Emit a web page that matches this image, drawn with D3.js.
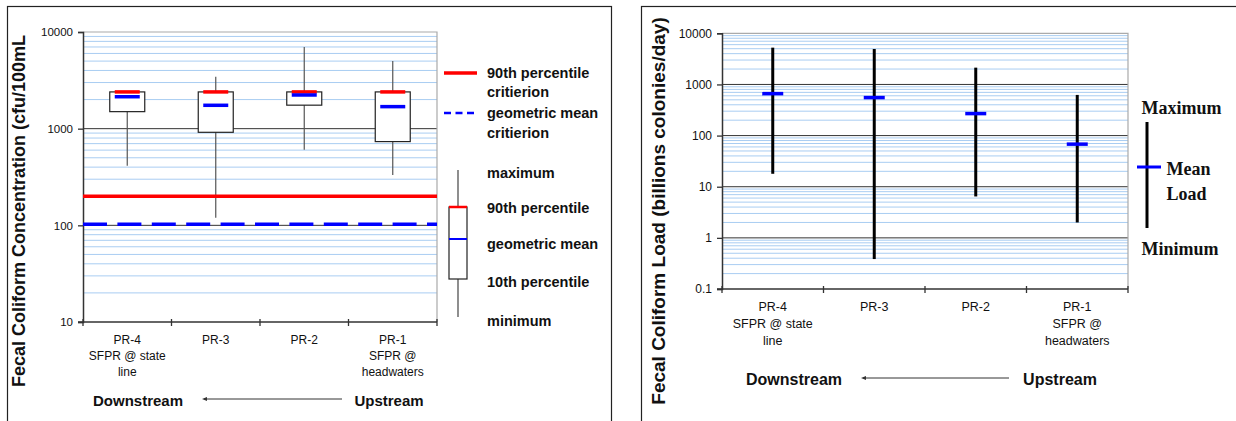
<!DOCTYPE html>
<html>
<head>
<meta charset="utf-8">
<script src="https://cdn.jsdelivr.net/npm/d3@7"></script>
<style>
  body { margin: 0; background: #fff; }
  svg { display: block; }
  text { font-family: Arial, "Liberation Sans", sans-serif; fill: #111; }
</style>
</head>
<body>
<svg width="1236" height="421"></svg>
<script>
// DATA

const sites = ["PR-4", "PR-3", "PR-2", "PR-1"];
const siteLabels = [["PR-4", "SFPR @ state", "line"], ["PR-3"], ["PR-2"], ["PR-1", "SFPR @", "headwaters"]];

// concentration box plots (cfu/100mL)
const concMax = [2400, 3450, 7000, 5000];
const concP90 = [2400, 2400, 2400, 2400];
const concGeoMean = [2140, 1745, 2230, 1690];
const concP10 = [1500, 917, 1750, 735];
const concMin = [414, 120, 606, 332];
const p90Criterion = 200;
const geoMeanCriterion = 100;
const concTicks = [10, 100, 1000, 10000];

// loads (billions colonies/day)
const loadMax = [5240, 4930, 2130, 624];
const loadMean = [661, 553, 269, 68];
const loadMin = [17.9, 0.385, 6.45, 2.0];
const loadTicks = [0.1, 1, 10, 100, 1000, 10000];

const boxLegend = ["maximum", "90th percentile", "geometric mean", "10th percentile", "minimum"];

// LAYOUT

const svg = d3.select('svg');
const RED = '#ff0000';
const BLUE = '#0000ff';
const MINOR_GRID = '#a9cdf2';

// panel frames
svg.append('rect').attr('x', 7.5).attr('y', 6.5).attr('width', 604).attr('height', 430)
    .style('fill', 'none').style('stroke', '#222').style('stroke-width', 1.2);
svg.append('rect').attr('x', 641.5).attr('y', 6.5).attr('width', 640).attr('height', 430)
    .style('fill', 'none').style('stroke', '#222').style('stroke-width', 1.2);

/**
 * Draws a log-scale plot frame with grid, y axis and category labels
 */
function drawFrame(g, x, y, ticks, opts) {
    const [x0, x1] = x.range();
    const [y0, y1] = y.range();

    // minor grid
    const minor = y.ticks().filter(v => Math.abs(Math.log10(v) - Math.round(Math.log10(v))) > 1e-6);
    g.selectAll('.minor').data(minor).enter().append('line')
        .attr('x1', x0).attr('x2', x1)
        .attr('y1', d => y(d)).attr('y2', d => y(d))
        .style('stroke', MINOR_GRID).style('stroke-width', 1);

    // major grid
    g.selectAll('.major').data(ticks.slice(1, -1)).enter().append('line')
        .attr('x1', x0).attr('x2', x1)
        .attr('y1', d => y(d)).attr('y2', d => y(d))
        .style('stroke', '#333').style('stroke-width', 1);

    // plot border top/right
    g.append('path').attr('d', `M${x0},${y1}H${x1}V${y0}`)
        .style('fill', 'none').style('stroke', '#aaa').style('stroke-width', 1.2);

    // y axis
    const yAxis = g.append('g').attr('transform', `translate(${x0},0)`)
        .call(d3.axisLeft(y).tickValues(ticks).tickFormat(d => String(d)).tickSizeOuter(0).tickSize(5).tickPadding(5));
    yAxis.select('.domain').style('stroke', '#333').style('stroke-width', 1.5);
    yAxis.selectAll('.tick line').style('stroke', '#333').style('stroke-width', 1.3);
    yAxis.selectAll('.tick text').style('font-size', opts.tickFont + 'px')
        .style('font-family', 'Arial, "Liberation Sans", sans-serif').style('fill', '#111');

    // x axis line and boundary ticks
    g.append('line').attr('x1', x0 - 5).attr('x2', x1).attr('y1', y0).attr('y2', y0)
        .style('stroke', '#333').style('stroke-width', 1.5);
    const bounds = sites.map(s => x(s)).concat([x1]);
    g.selectAll('.xtick').data(bounds).enter().append('line')
        .attr('x1', d => d).attr('x2', d => d)
        .attr('y1', y0 - 3).attr('y2', y0 + 4)
        .style('stroke', '#333').style('stroke-width', 1.3);

    // category labels
    const labels = g.selectAll('.cat').data(sites).enter().append('text')
        .attr('text-anchor', 'middle')
        .style('font-size', opts.catFont + 'px');
    labels.selectAll('tspan').data((d, i) => siteLabels[i]).enter().append('tspan')
        .attr('x', function() { return x(d3.select(this.parentNode).datum()) + x.bandwidth() / 2; })
        .attr('y', (d, i) => y0 + opts.catOffset + i * opts.catLine)
        .text(d => d);
}

function drawDirection(g, cx1, cx2, ax1, ax2, yy, fontSize) {
    g.append('text').attr('x', cx1).attr('y', yy + 5).attr('text-anchor', 'middle')
        .style('font-size', fontSize + 'px').style('font-weight', 'bold').text('Downstream');
    g.append('text').attr('x', cx2).attr('y', yy + 5).attr('text-anchor', 'middle')
        .style('font-size', fontSize + 'px').style('font-weight', 'bold').text('Upstream');
    g.append('line').attr('x1', ax2).attr('x2', ax1 + 2).attr('y1', yy - 2).attr('y2', yy - 2)
        .style('stroke', '#333').style('stroke-width', 1);
    g.append('path').attr('d', `M${ax1},${yy - 2}l5,-2v4z`).style('fill', '#333');
}

// LEFT PANEL: concentration box plots
const left = svg.append('g');
const xc = d3.scaleBand().domain(sites).range([83, 437]);
const yc = d3.scaleLog().domain([10, 10000]).range([322, 32]);
drawFrame(left, xc, yc, concTicks, { tickFont: 11.5, catFont: 12, catOffset: 22, catLine: 16 });

const boxW = 35, markW = 25;
const cc = i => xc(sites[i]) + xc.bandwidth() / 2;

// whiskers
left.selectAll('.whisker').data(sites).enter().append('line')
    .attr('x1', (d, i) => cc(i)).attr('x2', (d, i) => cc(i))
    .attr('y1', (d, i) => yc(concMax[i])).attr('y2', (d, i) => yc(concMin[i]))
    .style('stroke', '#555').style('stroke-width', 1.2);

// boxes
left.selectAll('.box').data(sites).enter().append('rect')
    .attr('x', (d, i) => cc(i) - boxW / 2).attr('width', boxW)
    .attr('y', (d, i) => yc(concP90[i])).attr('height', (d, i) => yc(concP10[i]) - yc(concP90[i]))
    .style('fill', '#fff').style('stroke', '#222').style('stroke-width', 1.2);

// criteria lines
left.append('line').attr('x1', 83).attr('x2', 437)
    .attr('y1', yc(p90Criterion)).attr('y2', yc(p90Criterion))
    .style('stroke', RED).style('stroke-width', 3.5);
left.append('line').attr('x1', 83).attr('x2', 437)
    .attr('y1', yc(geoMeanCriterion) - 1).attr('y2', yc(geoMeanCriterion) - 1)
    .style('stroke', BLUE).style('stroke-width', 3.5).style('stroke-dasharray', '24,10.4');

// 90th percentile and geometric mean marks
left.selectAll('.p90').data(sites).enter().append('line')
    .attr('x1', (d, i) => cc(i) - markW / 2).attr('x2', (d, i) => cc(i) + markW / 2)
    .attr('y1', (d, i) => yc(concP90[i])).attr('y2', (d, i) => yc(concP90[i]))
    .style('stroke', RED).style('stroke-width', 3.5);
left.selectAll('.gm').data(sites).enter().append('line')
    .attr('x1', (d, i) => cc(i) - markW / 2).attr('x2', (d, i) => cc(i) + markW / 2)
    .attr('y1', (d, i) => yc(concGeoMean[i])).attr('y2', (d, i) => yc(concGeoMean[i]))
    .style('stroke', BLUE).style('stroke-width', 3.5);

left.append('text').attr('transform', 'translate(25,211) rotate(-90)').attr('text-anchor', 'middle')
    .style('font-size', '18px').style('font-weight', 'bold').text('Fecal Coliform Concentration (cfu/100mL');

drawDirection(left, 138, 389, 202, 342, 401, 15);

// legend
const lg = svg.append('g');
const legFont = 14.5;
lg.append('line').attr('x1', 444).attr('x2', 477).attr('y1', 73).attr('y2', 73)
    .style('stroke', RED).style('stroke-width', 3.5);
lg.append('line').attr('x1', 444).attr('x2', 477).attr('y1', 113).attr('y2', 113)
    .style('stroke', BLUE).style('stroke-width', 2.5).style('stroke-dasharray', '7,4.5');
[["90th percentile", 73], ["critierion", 92], ["geometric mean", 113], ["critierion", 133]].forEach(([t, yy]) => {
    lg.append('text').attr('x', 487).attr('y', yy + 5).style('font-size', legFont + 'px')
        .style('font-weight', 'bold').text(t);
});
lg.append('line').attr('x1', 458).attr('x2', 458).attr('y1', 170).attr('y2', 317)
    .style('stroke', '#444').style('stroke-width', 1.2);
lg.append('rect').attr('x', 449).attr('y', 207).attr('width', 18).attr('height', 72)
    .style('fill', '#fff').style('stroke', '#222').style('stroke-width', 1.2);
lg.append('line').attr('x1', 449).attr('x2', 467).attr('y1', 207).attr('y2', 207)
    .style('stroke', RED).style('stroke-width', 2.5);
lg.append('line').attr('x1', 449).attr('x2', 467).attr('y1', 239).attr('y2', 239)
    .style('stroke', BLUE).style('stroke-width', 2);
const boxLegY = [173, 208, 244, 282, 321];
lg.selectAll('.boxleg').data(boxLegend).enter().append('text')
    .attr('x', 487).attr('y', (d, i) => boxLegY[i] + 5)
    .style('font-size', legFont + 'px').style('font-weight', 'bold').text(d => d);

// RIGHT PANEL: loads
const right = svg.append('g');
const xl = d3.scaleBand().domain(sites).range([722, 1128]);
const yl = d3.scaleLog().domain([0.1, 10000]).range([289, 33.3]);
drawFrame(right, xl, yl, loadTicks, { tickFont: 12, catFont: 12.5, catOffset: 22, catLine: 17 });

const lc = i => xl(sites[i]) + xl.bandwidth() / 2;
right.selectAll('.range').data(sites).enter().append('line')
    .attr('x1', (d, i) => lc(i)).attr('x2', (d, i) => lc(i))
    .attr('y1', (d, i) => yl(loadMax[i])).attr('y2', (d, i) => yl(loadMin[i]))
    .style('stroke', '#000').style('stroke-width', 3);
right.selectAll('.mean').data(sites).enter().append('line')
    .attr('x1', (d, i) => lc(i) - 10.5).attr('x2', (d, i) => lc(i) + 10.5)
    .attr('y1', (d, i) => yl(loadMean[i])).attr('y2', (d, i) => yl(loadMean[i]))
    .style('stroke', BLUE).style('stroke-width', 3.5);

right.append('text').attr('transform', 'translate(665,211) rotate(-90)').attr('text-anchor', 'middle')
    .style('font-size', '19px').style('font-weight', 'bold').text('Fecal Coliform Load (billions colonies/day)');

drawDirection(right, 794, 1060, 861, 1009, 380, 16);

// right legend
const rl = svg.append('g').style('font-family', '"Times New Roman", "Liberation Serif", serif');
const serif = '"Times New Roman", "Liberation Serif", serif';
rl.append('line').attr('x1', 1147).attr('x2', 1147).attr('y1', 122).attr('y2', 228)
    .style('stroke', '#000').style('stroke-width', 3);
rl.append('line').attr('x1', 1137).attr('x2', 1161).attr('y1', 167).attr('y2', 167)
    .style('stroke', BLUE).style('stroke-width', 3);
[["Maximum", 1141.5, 114], ["Mean", 1166.5, 175], ["Load", 1166.5, 200], ["Minimum", 1141.5, 255]].forEach(([t, xx, yy]) => {
    rl.append('text').attr('x', xx).attr('y', yy).style('font-family', serif)
        .style('font-size', '18px').style('font-weight', 'bold').text(t);
});
</script>
</body>
</html>
